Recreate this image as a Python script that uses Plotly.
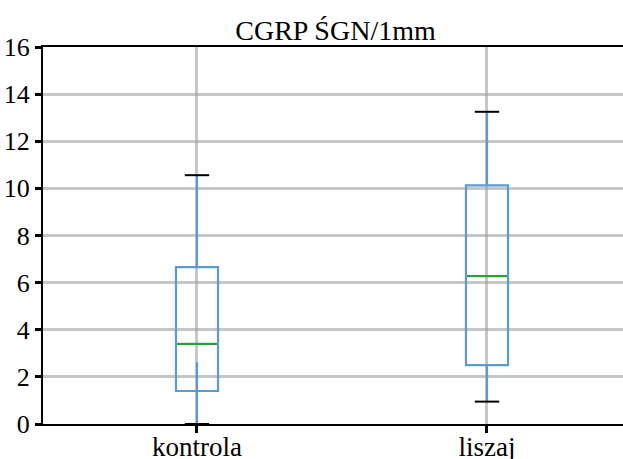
import plotly.graph_objects as go

categories = ["kontrola", "liszaj"]
positions = [1, 2]
whisker_low = [0.0, 0.95]
q1 = [1.40, 2.50]
median = [3.40, 6.28]
q3 = [6.66, 10.13]
whisker_high = [10.56, 13.25]
# stray whisker segment visible inside the kontrola box
inner_top = [2.62, None]

y_ticks = [0, 2, 4, 6, 8, 10, 12, 14, 16]

BOX = "#5a9bd0"
MED = "#2ca02c"
BOX_W = 0.145
CAP_HALF = 0.042
MED_HALF = 0.068

fig = go.Figure()
fig.add_trace(go.Box(
    x=positions, q1=q1, median=median, q3=q3,
    lowerfence=whisker_low, upperfence=whisker_high,
    width=BOX_W, whiskerwidth=0,
    line=dict(color=BOX, width=2.2), fillcolor="rgba(0,0,0,0)",
    boxpoints=False, hoverinfo="skip", showlegend=False,
))

for p, lo, md, hi, it, b1 in zip(positions, whisker_low, median, whisker_high, inner_top, q1):
    if it is not None:
        fig.add_trace(go.Scatter(x=[p, p], y=[b1, it], mode="lines",
                                 line=dict(color=BOX, width=2.2), showlegend=False, hoverinfo="skip"))
    fig.add_trace(go.Scatter(x=[p - MED_HALF, p + MED_HALF], y=[md, md], mode="lines",
                             line=dict(color=MED, width=2), showlegend=False, hoverinfo="skip"))
    for v in (lo, hi):
        fig.add_trace(go.Scatter(x=[p - CAP_HALF, p + CAP_HALF], y=[v, v], mode="lines",
                                 line=dict(color="black", width=2), showlegend=False, hoverinfo="skip"))

fig.update_layout(
    width=623, height=459,
    margin=dict(l=43, r=0, t=47, b=35, autoexpand=False),
    paper_bgcolor="white", plot_bgcolor="white",
    font=dict(family="Liberation Serif", size=26, color="black"),
    title=dict(text="CGRP ŚGN/1mm", x=335.5 / 623, xanchor="center",
               y=1 - 30 / 459, yanchor="middle", font=dict(size=28)),
    xaxis=dict(range=[0.469, 2.469], tickvals=positions, ticktext=categories,
               automargin=False, tickfont=dict(size=27), ticklabelstandoff=-9,
               showline=True, linecolor="black", linewidth=2, mirror=True,
               ticks="outside", ticklen=7, tickwidth=3, tickcolor="black",
               showgrid=True, gridcolor="rgba(160,160,160,0.6)", gridwidth=3,
               zeroline=False),
    yaxis=dict(range=[0, 16], tickvals=y_ticks, automargin=False,
               showline=True, linecolor="black", linewidth=2, mirror=False,
               ticks="outside", ticklen=6, tickwidth=3, tickcolor="black",
               showgrid=True, gridcolor="rgba(160,160,160,0.6)", gridwidth=3,
               zeroline=False),
)

fig.write_html(
    "out.html",
    config={"displayModeBar": False},
    post_script="document.body.style.margin='0';document.body.style.overflow='hidden';",
)
